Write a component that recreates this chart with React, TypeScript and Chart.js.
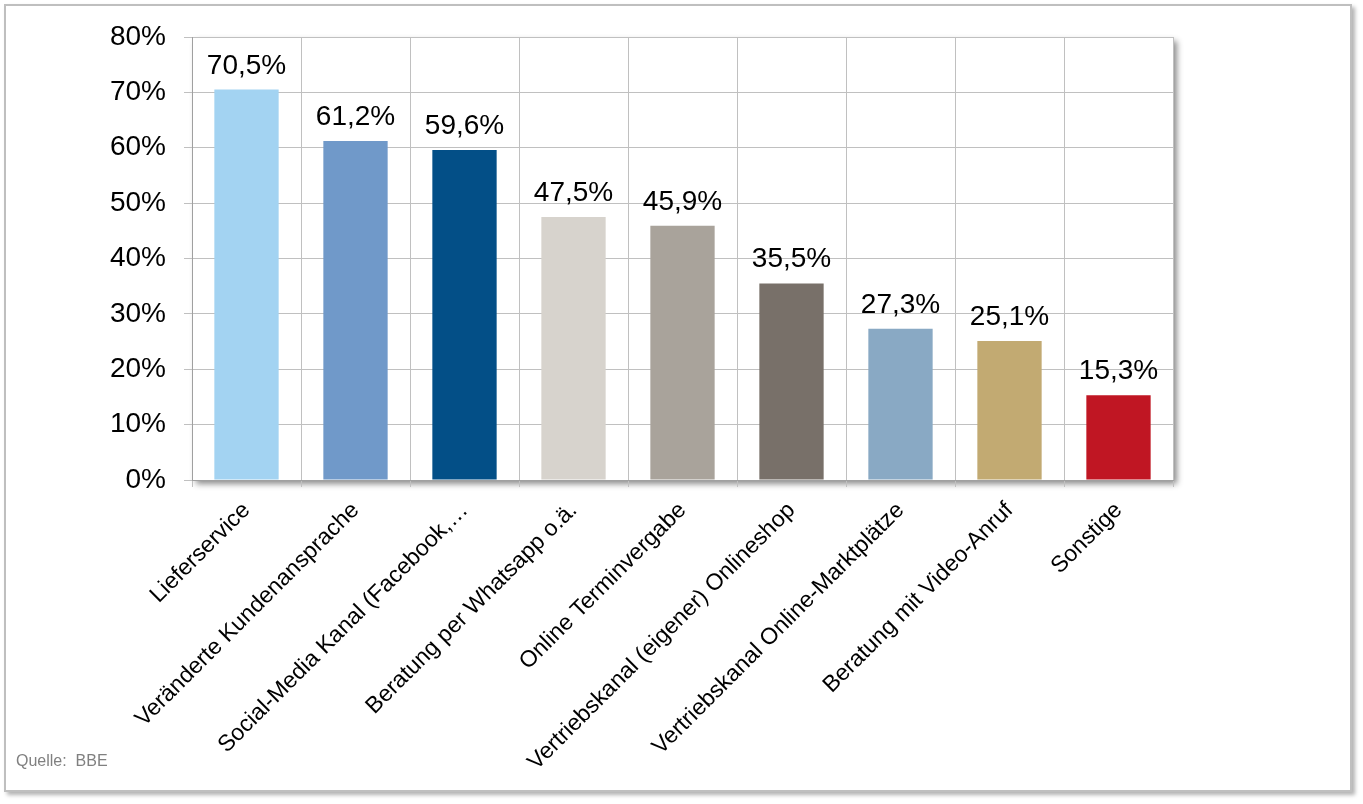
import React, { useEffect, useRef } from "react";
import { Chart, registerables } from "chart.js";

Chart.register(...registerables);

const categories = [
  "Lieferservice",
  "Veränderte Kundenansprache",
  "Social-Media Kanal (Facebook,…",
  "Beratung per Whatsapp o.ä.",
  "Online Terminvergabe",
  "Vertriebskanal (eigener) Onlineshop",
  "Vertriebskanal Online-Marktplätze",
  "Beratung mit Video-Anruf",
  "Sonstige",
];
const values = [70.5, 61.2, 59.6, 47.5, 45.9, 35.5, 27.3, 25.1, 15.3];
const barColors = [
  "#A3D3F2",
  "#7099C9",
  "#034F87",
  "#D7D3CD",
  "#A9A39B",
  "#787069",
  "#89A9C4",
  "#C2AA72",
  "#C01623",
];
const yTicks = [0, 10, 20, 30, 40, 50, 60, 70, 80];

const FONT = "'Liberation Sans', Arial, sans-serif";

const plotShadow = {
  id: "plotShadow",
  beforeDraw(chart: any) {
    const { ctx, chartArea } = chart;
    ctx.save();
    ctx.shadowColor = "rgba(0,0,0,0.45)";
    ctx.shadowBlur = 6;
    ctx.shadowOffsetX = 4;
    ctx.shadowOffsetY = 4;
    ctx.fillStyle = "#ffffff";
    ctx.fillRect(chartArea.left, chartArea.top, chartArea.right - chartArea.left, chartArea.bottom - chartArea.top);
    ctx.restore();
  },
};

const dataLabels = {
  id: "dataLabels",
  afterDatasetsDraw(chart: any) {
    const { ctx } = chart;
    const meta = chart.getDatasetMeta(0);
    ctx.save();
    ctx.font = `28px ${FONT}`;
    ctx.fillStyle = "#000000";
    ctx.textAlign = "center";
    ctx.textBaseline = "alphabetic";
    meta.data.forEach((bar: any, i: number) => {
      const txt = values[i].toFixed(1).replace(".", ",") + "%";
      ctx.fillText(txt, bar.x, bar.y - 16);
    });
    ctx.restore();
  },
};

export default function App() {
  const ref = useRef<HTMLCanvasElement>(null);
  useEffect(() => {
    document.body.style.margin = "0";
    const chart = new Chart(ref.current as HTMLCanvasElement, {
      type: "bar",
      data: {
        labels: categories,
        datasets: [
          {
            data: values,
            backgroundColor: barColors,
            borderWidth: 0,
            categoryPercentage: 1,
            barPercentage: 0.59,
          },
        ],
      },
      options: {
        animation: false,
        responsive: false,
        devicePixelRatio: 1,
        layout: { padding: { left: 0, top: 37, right: 190, bottom: 0 } },
        plugins: { legend: { display: false }, tooltip: { enabled: false } },
        scales: {
          x: {
            grid: { color: "#c0c0c0", lineWidth: 1, tickLength: 7, offset: true },
            border: { color: "#a0a0a0" },
            ticks: {
              autoSkip: false,
              minRotation: 45,
              maxRotation: 45,
              color: "#000000",
              padding: 10,
              font: { family: FONT, size: 23 },
            },
            afterFit(scale: any) {
              scale.height = 324;
            },
          },
          y: {
            min: 0,
            max: 80,
            afterBuildTicks(scale: any) {
              scale.ticks = yTicks.map((v) => ({ value: v }));
            },
            grid: { color: "#c0c0c0", lineWidth: 1, tickLength: 8 },
            border: { color: "#a0a0a0" },
            ticks: {
              color: "#000000",
              padding: 18,
              font: { family: FONT, size: 28 },
              callback: (v: any) => v + "%",
            },
            afterFit(scale: any) {
              scale.width = 192;
            },
          },
        },
      },
      plugins: [plotShadow, dataLabels],
    });
    return () => chart.destroy();
  }, []);
  return (
    <div style={{ position: "relative", width: 1363, height: 804, background: "#fff" }}>
      <div
        style={{
          position: "absolute",
          left: 4,
          top: 4,
          width: 1344,
          height: 784,
          border: "2px solid #bfbfbf",
          boxShadow: "3px 3px 4px rgba(0,0,0,0.3)",
          background: "#fff",
        }}
      />
      <canvas ref={ref} width={1363} height={804} style={{ position: "absolute", left: 0, top: 0 }} />
      <div
        style={{
          position: "absolute",
          left: 16,
          top: 752,
          fontFamily: FONT,
          fontSize: 16,
          color: "#808080",
          whiteSpace: "pre",
        }}
      >
        {"Quelle:  BBE"}
      </div>
    </div>
  );
}
